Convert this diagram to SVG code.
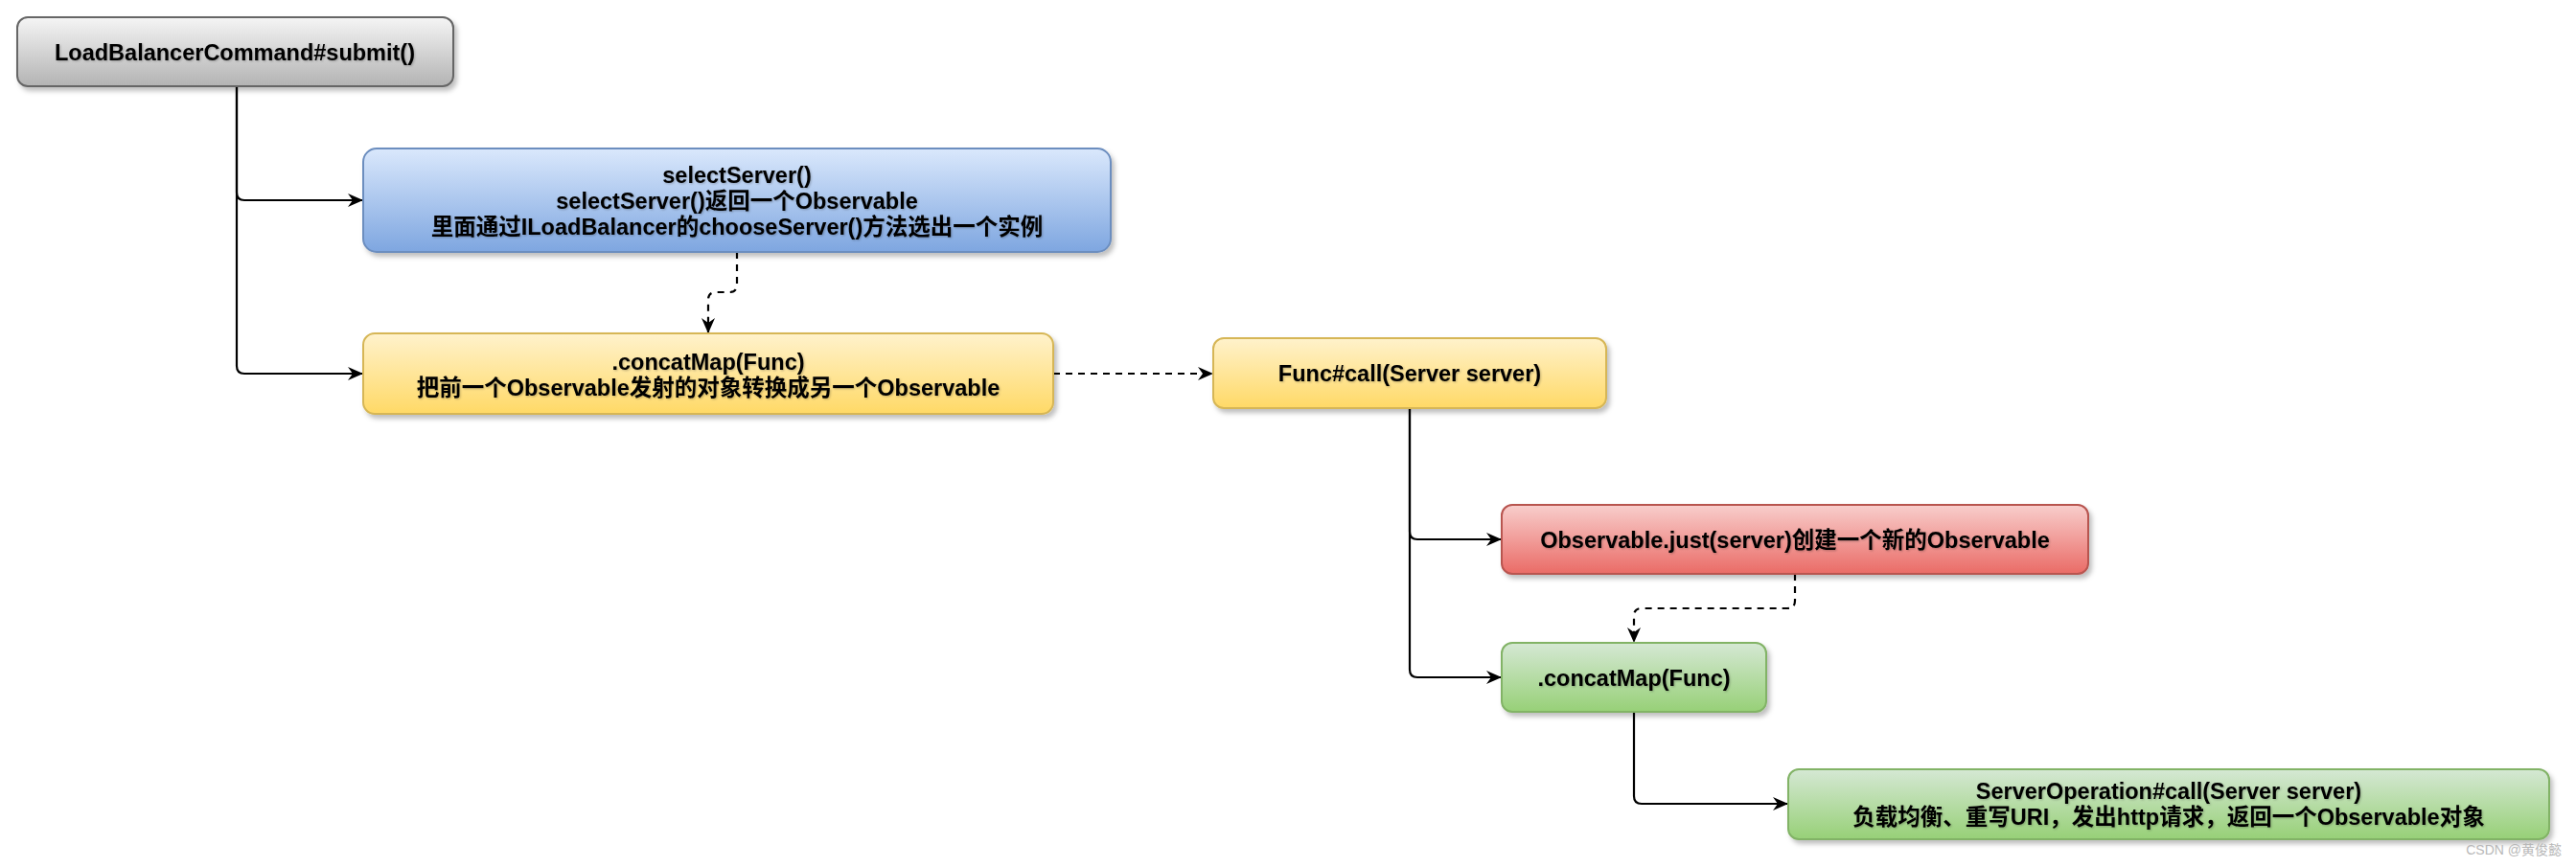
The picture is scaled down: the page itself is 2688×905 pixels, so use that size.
<svg xmlns="http://www.w3.org/2000/svg" width="2688" height="905" viewBox="0 0 2688 905">
<style>
.node{stroke-width:2;filter:url(#sh)}
.t{font-family:"Liberation Sans","Noto Sans CJK SC",sans-serif;font-weight:bold;font-size:23.5px;fill:#000;text-anchor:middle;dominant-baseline:central;filter:url(#tsh)}
.c{fill:none;stroke:#000;stroke-width:2.2;marker-end:url(#arr)}
.d{stroke-dasharray:7 6}
.wm{font-family:"Liberation Sans","Noto Sans CJK SC",sans-serif;font-size:14px;fill:#b8b8b8}
</style>
<defs>
<filter id="sh" x="-5%" y="-20%" width="115%" height="160%"><feDropShadow dx="3" dy="4" stdDeviation="2.5" flood-color="#000" flood-opacity="0.25"/></filter>
<filter id="tsh" x="-5%" y="-30%" width="110%" height="160%"><feDropShadow dx="1" dy="1" stdDeviation="1" flood-color="#000" flood-opacity="0.25"/></filter>
<linearGradient id="gGray" x1="0" y1="0" x2="0" y2="1"><stop offset="0" stop-color="#f5f5f5"/><stop offset="1" stop-color="#b3b3b3"/></linearGradient>
<linearGradient id="gBlue" x1="0" y1="0" x2="0" y2="1"><stop offset="0" stop-color="#dae8fc"/><stop offset="1" stop-color="#7ea6e0"/></linearGradient>
<linearGradient id="gYel" x1="0" y1="0" x2="0" y2="1"><stop offset="0" stop-color="#fff2cc"/><stop offset="1" stop-color="#ffd966"/></linearGradient>
<linearGradient id="gRed" x1="0" y1="0" x2="0" y2="1"><stop offset="0" stop-color="#f8cecc"/><stop offset="1" stop-color="#ea6b66"/></linearGradient>
<linearGradient id="gGrn" x1="0" y1="0" x2="0" y2="1"><stop offset="0" stop-color="#d5e8d4"/><stop offset="1" stop-color="#97d077"/></linearGradient>
<marker id="arr" viewBox="0 0 16 14" refX="16" refY="7" markerWidth="16" markerHeight="14" markerUnits="userSpaceOnUse" orient="auto"><path d="M0,0 L16,7 L0,14 L5,7 Z" fill="#000" stroke="none"/></marker>
</defs>
<rect width="2688" height="905" fill="#fff"/>
<g id="connectors">
<path class="c" d="M247 90 L247 201 Q247 209 255 209 L379 209"/>
<path class="c" d="M247 90 L247 382 Q247 390 255 390 L379 390"/>
<path class="c d" d="M769 263 L769 297 Q769 305 761 305 L747 305 Q739 305 739 313 L739 348"/>
<path class="c d" d="M1099 390 L1266 390"/>
<path class="c" d="M1471 426 L1471 555 Q1471 563 1479 563 L1567 563"/>
<path class="c" d="M1471 426 L1471 699 Q1471 707 1479 707 L1567 707"/>
<path class="c d" d="M1873 599 L1873 627 Q1873 635 1865 635 L1713 635 Q1705 635 1705 643 L1705 671"/>
<path class="c" d="M1705 743 L1705 831 Q1705 839 1713 839 L1866 839"/>
</g>
<g id="submit">
<rect class="node" x="18" y="18" width="455" height="72" rx="11" fill="url(#gGray)" stroke="#666666"/>
<text class="t" x="245" y="55">LoadBalancerCommand#submit()</text>
</g>
<g id="selectServer">
<rect class="node" x="379" y="155" width="780" height="108" rx="14" fill="url(#gBlue)" stroke="#6c8ebf"/>
<text class="t" x="769" y="183">selectServer()</text>
<text class="t" x="769" y="210">selectServer()返回一个Observable</text>
<text class="t" x="769" y="237">里面通过ILoadBalancer的chooseServer()方法选出一个实例</text>
</g>
<g id="concatMap1">
<rect class="node" x="379" y="348" width="720" height="84" rx="12" fill="url(#gYel)" stroke="#d6b656"/>
<text class="t" x="739" y="378">.concatMap(Func)</text>
<text class="t" x="739" y="405">把前一个Observable发射的对象转换成另一个Observable</text>
</g>
<g id="funcCall">
<rect class="node" x="1266" y="353" width="410" height="73" rx="11" fill="url(#gYel)" stroke="#d6b656"/>
<text class="t" x="1471" y="390">Func#call(Server server)</text>
</g>
<g id="observableJust">
<rect class="node" x="1567" y="527" width="612" height="72" rx="11" fill="url(#gRed)" stroke="#b85450"/>
<text class="t" x="1873" y="564">Observable.just(server)创建一个新的Observable</text>
</g>
<g id="concatMap2">
<rect class="node" x="1567" y="671" width="276" height="72" rx="11" fill="url(#gGrn)" stroke="#82b366"/>
<text class="t" x="1705" y="708">.concatMap(Func)</text>
</g>
<g id="serverOperation">
<rect class="node" x="1866" y="803" width="794" height="73" rx="11" fill="url(#gGrn)" stroke="#82b366"/>
<text class="t" x="2263" y="826">ServerOperation#call(Server server)</text>
<text class="t" x="2263" y="853">负载均衡、重写URI，发出http请求，返回一个Observable对象</text>
</g>
<text class="wm" x="2673" y="892" text-anchor="end">CSDN @黄俊懿</text>
</svg>
